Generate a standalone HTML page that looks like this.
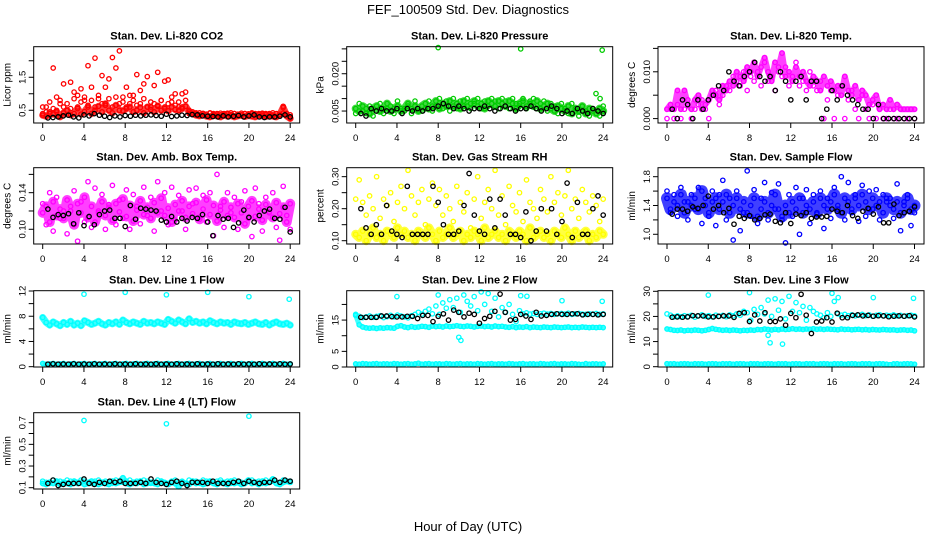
<!DOCTYPE html>
<html><head><meta charset="utf-8"><style>
html,body{margin:0;padding:0;background:#fff;}
svg{display:block;font-family:"Liberation Sans",sans-serif;}
</style></head><body>
<svg id="chart" width="936" height="540" viewBox="0 0 936 540" xmlns="http://www.w3.org/2000/svg">
<rect width="936" height="540" fill="#fff"/>
<text x="468" y="14" text-anchor="middle" font-size="13">FEF_100509  Std. Dev. Diagnostics</text>
<text x="468" y="531" text-anchor="middle" font-size="13">Hour of Day (UTC)</text>
<g id="panels"></g>
</svg>
<script>
// ---- data ----
const hourTicks = [0,4,8,12,16,20,24];

const co2Band = [0.35,0.32,0.4,0.38,0.45,0.3,0.42,0.5,0.36,0.4,0.55,0.38,0.46,0.6,0.4,0.5,0.62,0.45,0.7,0.5,0.42,0.65,0.5,0.48,0.55,0.6,0.45,0.5,0.58,0.42,0.6,0.52,0.45,0.62,0.5,0.55,0.48,0.6,0.52,0.5,0.55,0.62,0.45,0.4,0.35,0.33,0.38,0.32,0.3,0.35,0.33,0.3,0.36,0.32,0.34,0.3,0.33,0.35,0.31,0.34,0.32,0.3,0.35,0.33,0.31,0.34,0.32,0.3,0.36,0.58,0.33,0.25];
const co2Scatter = [0.4,0.6,0.45,1.78,0.9,0.7,1.3,0.5,1.35,1.05,0.95,1.15,0.8,1.85,1.2,2.08,0.85,1.55,1.2,1.45,2.1,1.78,2.3,0.9,1.2,0.7,0.95,1.58,1.1,1.3,1.52,0.6,1.25,1.65,0.8,1.38,1.42,0.75,1.0,0.6,1.0,1.05,0.4,0.38,0.42,0.36,0.4,0.38,0.41,0.37,0.4,0.36,0.39,0.41,0.37,0.4,0.38,0.36,0.4,0.37,0.39,0.36,0.4,0.38,0.37,0.4,0.36,0.39,0.37,0.62,0.4,0.3];
const co2Low = [0.6,0.45,0.75,0.55,0.5,0.8,0.6,0.7,0.55,0.85,0.6,0.75,0.9,0.65,0.8,0.6,0.95,0.7,0.65,0.85,0.6,0.9,0.7,0.75,0.6,0.95,0.8,0.65,0.7,0.85,0.6,0.75,0.7,0.65,0.8,0.6,0.7,0.9,0.65,0.75,0.6,0.8,0.5,0.45,0.4,0.42,0.4,0.38,0.42,0.4,0.38,0.41,0.4,0.39,0.42,0.4,0.38,0.41,0.4,0.39,0.42,0.4,0.38,0.41,0.4,0.39,0.42,0.4,0.38,0.41,0.4,0.36];
const co2Black = [0.27,0.28,0.3,0.33,0.35,0.3,0.27,0.36,0.33,0.4,0.35,0.32,0.28,0.33,0.3,0.34,0.32,0.35,0.33,0.35,0.36,0.34,0.32,0.38,0.31,0.33,0.35,0.34,0.37,0.36,0.33,0.32,0.31,0.3,0.33,0.3,0.32,0.34,0.3,0.33,0.36,0.3,0.28,0.3,0.3,0.32,0.36,0.3];

const presBand = [0.006,0.005,0.007,0.006,0.004,0.006,0.007,0.005,0.006,0.008,0.005,0.006,0.007,0.005,0.006,0.008,0.006,0.007,0.005,0.007,0.008,0.006,0.007,0.009,0.006,0.008,0.007,0.009,0.007,0.008,0.006,0.009,0.007,0.008,0.009,0.007,0.008,0.006,0.009,0.008,0.007,0.009,0.008,0.007,0.009,0.008,0.006,0.008,0.009,0.007,0.008,0.007,0.009,0.006,0.007,0.008,0.006,0.005,0.007,0.006,0.005,0.007,0.004,0.006,0.005,0.007,0.004,0.006,0.005,0.004,0.006,0.005];
const presScatter = [0.004,0.008,0.005,0.004,0.007,0.003,0.005,0.008,0.004,0.006,0.007,0.004,0.009,0.006,0.005,0.007,0.004,0.009,0.006,0.005,0.006,0.009,0.005,0.007,0.010,0.006,0.009,0.005,0.010,0.006,0.009,0.007,0.010,0.006,0.008,0.010,0.006,0.009,0.007,0.010,0.009,0.006,0.010,0.009,0.006,0.010,0.008,0.007,0.010,0.006,0.009,0.010,0.006,0.008,0.009,0.005,0.008,0.007,0.004,0.008,0.006,0.004,0.008,0.005,0.003,0.007,0.005,0.003,0.006,0.004,0.003,0.007];
const presOutX = [8,16,23.9,23.3,23.7];
const presOutY = [0.0305,0.0300,0.0295,0.012,0.010];
const presBlack = [0.004,0.003,0.006,0.005,0.006,0.005,0.005,0.006,0.004,0.006,0.005,0.006,0.005,0.006,0.006,0.007,0.008,0.007,0.006,0.007,0.006,0.005,0.006,0.006,0.007,0.006,0.005,0.006,0.007,0.006,0.005,0.006,0.006,0.007,0.006,0.005,0.006,0.007,0.006,0.004,0.005,0.004,0.006,0.005,0.004,0.006,0.005,0.004];

const tempBand = [0.002,0.003,0.002,0.006,0.002,0.006,0.003,0.002,0.004,0.005,0.002,0.003,0.004,0.006,0.005,0.004,0.007,0.006,0.008,0.007,0.010,0.009,0.008,0.011,0.010,0.012,0.009,0.011,0.013,0.010,0.008,0.012,0.011,0.014,0.009,0.010,0.008,0.011,0.009,0.010,0.008,0.007,0.009,0.008,0.006,0.009,0.007,0.008,0.006,0.007,0.005,0.009,0.006,0.005,0.007,0.004,0.006,0.005,0.003,0.004,0.005,0.002,0.003,0.002,0.004,0.002,0.003,0.002,0.002,0.002,0.002,0.002];
const tempScatter = [0.000,0.002,0.000,0.003,0.000,0.002,0.004,0.000,0.002,0.003,0.004,0.002,0.000,0.005,0.006,0.003,0.005,0.007,0.006,0.009,0.008,0.007,0.010,0.006,0.009,0.008,0.010,0.007,0.012,0.008,0.009,0.006,0.010,0.009,0.011,0.007,0.009,0.012,0.007,0.008,0.006,0.010,0.007,0.006,0.008,0.000,0.004,0.006,0.000,0.005,0.007,0.000,0.004,0.006,0.002,0.000,0.005,0.002,0.000,0.003,0.000,0.002,0.000,0.000,0.002,0.000,0.000,0.002,0.000,0.000,0.002,0.000];
const tempBlack = [0.002,0.000,0.004,0.003,0.000,0.004,0.002,0.004,0.005,0.007,0.006,0.010,0.008,0.007,0.009,0.010,0.012,0.009,0.008,0.009,0.006,0.010,0.008,0.004,0.008,0.009,0.004,0.008,0.008,0.000,0.002,0.006,0.004,0.007,0.005,0.004,0.003,0.002,0.002,0.000,0.003,0.000,0.000,0.000,0.000,0.000,0.000,0.000];

const boxBand = [0.118,0.125,0.108,0.13,0.115,0.122,0.112,0.132,0.12,0.105,0.128,0.118,0.135,0.113,0.125,0.108,0.12,0.13,0.115,0.124,0.11,0.128,0.119,0.133,0.114,0.126,0.109,0.121,0.131,0.116,0.124,0.112,0.129,0.118,0.134,0.115,0.123,0.108,0.127,0.12,0.131,0.113,0.125,0.117,0.129,0.111,0.122,0.132,0.116,0.126,0.109,0.121,0.13,0.115,0.124,0.113,0.128,0.118,0.106,0.125,0.131,0.114,0.122,0.11,0.127,0.119,0.113,0.129,0.117,0.124,0.108,0.128];
const boxScatter = [0.128,0.105,0.14,0.098,0.135,0.112,0.12,0.095,0.125,0.142,0.087,0.13,0.108,0.152,0.102,0.145,0.118,0.138,0.1,0.127,0.148,0.105,0.132,0.112,0.143,0.1,0.138,0.125,0.106,0.146,0.115,0.135,0.098,0.152,0.12,0.14,0.105,0.146,0.11,0.137,0.12,0.1,0.143,0.128,0.145,0.113,0.137,0.108,0.14,0.093,0.16,0.125,0.102,0.14,0.118,0.135,0.1,0.13,0.142,0.112,0.092,0.145,0.128,0.098,0.135,0.118,0.14,0.102,0.088,0.147,0.115,0.1];
const boxBlack = [0.122,0.113,0.116,0.115,0.117,0.106,0.118,0.104,0.114,0.105,0.116,0.12,0.121,0.112,0.112,0.103,0.126,0.111,0.123,0.122,0.121,0.12,0.11,0.108,0.114,0.108,0.112,0.109,0.113,0.112,0.116,0.108,0.093,0.115,0.111,0.112,0.102,0.107,0.121,0.113,0.108,0.115,0.12,0.122,0.112,0.111,0.124,0.097];

const rhBand = [0.12,0.11,0.13,0.1,0.12,0.14,0.11,0.12,0.1,0.13,0.12,0.11,0.14,0.12,0.13,0.11,0.12,0.1,0.13,0.12,0.11,0.14,0.12,0.1,0.13,0.11,0.12,0.14,0.11,0.12,0.13,0.1,0.12,0.11,0.13,0.12,0.1,0.14,0.11,0.12,0.13,0.11,0.12,0.1,0.13,0.12,0.11,0.13,0.12,0.1,0.14,0.11,0.12,0.13,0.11,0.12,0.1,0.13,0.12,0.11,0.14,0.12,0.1,0.13,0.11,0.12,0.13,0.1,0.12,0.11,0.13,0.12];
const rhScatter = [0.23,0.29,0.22,0.18,0.24,0.2,0.3,0.17,0.23,0.21,0.25,0.16,0.22,0.27,0.2,0.32,0.24,0.18,0.22,0.26,0.15,0.23,0.28,0.21,0.26,0.18,0.24,0.2,0.16,0.27,0.22,0.19,0.25,0.14,0.23,0.3,0.17,0.22,0.26,0.2,0.32,0.18,0.24,0.15,0.27,0.21,0.19,0.25,0.16,0.29,0.22,0.2,0.17,0.26,0.23,0.19,0.3,0.22,0.25,0.18,0.24,0.32,0.2,0.23,0.17,0.26,0.22,0.19,0.24,0.21,0.16,0.23];
const rhBlack = [0.2,0.14,0.12,0.15,0.12,0.21,0.13,0.12,0.11,0.27,0.12,0.12,0.12,0.12,0.27,0.22,0.15,0.12,0.12,0.13,0.21,0.31,0.18,0.13,0.12,0.23,0.14,0.23,0.18,0.12,0.12,0.11,0.19,0.1,0.13,0.2,0.13,0.2,0.12,0.16,0.28,0.11,0.22,0.12,0.12,0.2,0.24,0.18];

const flowBand = [1.5,1.35,1.45,1.4,1.55,1.3,1.45,1.4,1.5,1.35,1.6,1.4,1.3,1.45,1.5,1.35,1.45,1.55,1.3,1.4,1.5,1.35,1.45,1.3,1.4,1.5,1.25,1.35,1.45,1.3,1.4,1.55,1.35,1.25,1.4,1.3,1.45,1.35,1.5,1.3,1.4,1.35,1.45,1.3,1.5,1.4,1.35,1.45,1.55,1.4,1.3,1.5,1.45,1.35,1.5,1.4,1.55,1.45,1.35,1.5,1.4,1.45,1.3,1.5,1.4,1.35,1.45,1.3,1.4,1.5,1.35,1.4];
const flowScatter = [1.6,1.3,1.55,1.25,1.65,1.45,1.2,1.55,1.35,1.65,1.15,1.5,1.25,1.6,1.12,1.55,1.75,1.2,1.5,0.92,1.6,1.05,1.3,1.88,1.25,1.62,1.15,1.5,1.72,1.2,1.58,1.35,1.7,1.2,0.88,1.55,1.25,1.65,1.0,1.5,1.62,1.15,1.55,1.28,1.6,1.08,1.5,1.22,1.65,1.35,1.8,1.2,1.72,1.3,1.55,1.18,1.68,1.25,1.6,1.35,1.62,1.2,1.55,1.45,1.5,1.22,1.7,1.05,1.45,1.55,1.12,1.3];
const flowBlack = [1.28,1.35,1.35,1.32,1.38,1.36,1.4,1.53,1.35,1.4,1.3,1.36,1.14,1.25,1.22,1.26,1.2,1.22,1.27,1.28,1.18,1.16,1.3,1.15,1.28,1.26,1.3,1.22,1.24,1.24,1.25,1.35,1.32,1.3,1.4,1.26,1.22,1.32,1.36,1.28,1.38,1.16,1.16,1.42,1.26,1.3,1.32,1.38];

const l1Upper = [7.8,7.0,6.6,7.1,6.8,6.5,7.0,6.7,7.2,6.6,6.9,6.5,7.3,7.0,6.7,6.9,7.2,6.8,6.6,7.0,6.8,7.1,6.7,7.4,7.0,6.8,7.1,6.9,6.7,7.2,6.9,7.0,6.8,7.1,6.9,6.7,7.5,7.2,6.9,7.4,7.1,6.8,7.6,7.0,7.2,6.9,7.1,6.8,7.3,7.0,6.8,7.1,6.9,7.0,6.7,7.1,6.9,6.8,7.0,6.7,6.9,7.1,6.8,6.7,7.0,6.6,6.9,7.1,6.8,6.7,6.9,6.6];
const l1Lower = [0.5,0.4,0.45,0.5,0.4,0.45,0.5,0.4,0.45,0.5,0.4,0.45,0.5,0.4,0.45,0.5,0.4,0.45,0.5,0.4,0.45,0.5,0.4,0.45,0.5,0.4,0.45,0.5,0.4,0.45,0.5,0.4,0.45,0.5,0.4,0.45,0.5,0.4,0.45,0.5,0.4,0.45,0.5,0.4,0.45,0.5,0.4,0.45,0.5,0.4,0.45,0.5,0.4,0.45,0.5,0.4,0.45,0.5,0.4,0.45,0.5,0.4,0.45,0.5,0.4,0.45,0.5,0.4,0.45,0.5,0.4,0.45];
const l1OutX = [4,8,12,16,20,23.9];
const l1OutY = [11.5,11.8,11.4,11.8,11.1,10.7];
const l1Black = [0.4,0.45,0.4,0.42,0.4,0.45,0.4,0.42,0.4,0.45,0.4,0.42,0.4,0.45,0.4,0.42,0.4,0.45,0.4,0.42,0.4,0.45,0.4,0.42,0.4,0.45,0.4,0.42,0.4,0.45,0.4,0.42,0.4,0.45,0.4,0.42,0.4,0.45,0.4,0.42,0.4,0.45,0.4,0.42,0.4,0.45,0.4,0.42];

const l2Mid = [16.5,13.5,12.8,12.5,12.4,12.5,12.3,12.5,12.4,12.6,12.5,12.4,13.0,13.2,12.8,12.6,12.9,12.7,12.8,13.0,12.9,12.7,13.1,12.9,13.0,12.8,13.1,12.9,13.0,13.2,13.0,12.9,13.1,13.0,12.8,13.0,13.1,12.9,13.0,12.8,13.1,12.9,13.0,12.8,12.7,12.9,12.6,12.8,12.7,12.9,12.6,12.8,12.7,12.6,12.8,12.7,12.6,12.8,12.7,12.6,12.7,12.8,12.6,12.7,12.6,12.8,12.7,12.6,12.7,12.6,12.7,12.6];
const l2Low = [1.0,0.9,1.1,1.0,0.9,1.0,1.1,0.9,1.0,1.0,0.9,1.1,1.0,0.9,1.0,1.1,0.9,1.0,1.2,0.9,1.0,1.1,0.9,1.0,1.0,0.9,1.1,1.0,0.9,1.0,1.1,0.9,1.0,1.0,0.9,1.1,1.0,0.9,1.0,1.1,0.9,1.0,1.0,0.9,1.1,1.0,0.9,1.0,1.1,0.9,1.0,1.0,0.9,1.1,1.0,0.9,1.0,1.1,0.9,1.0,1.0,0.9,1.1,1.0,0.9,0.8,1.1,0.9,1.0,1.0,0.9,1.0];
const l2Upper = [16.8,16.2,15.8,16.0,16.3,15.9,16.2,16.4,15.8,16.1,16.5,16.0,16.6,16.3,16.0,15.7,16.4,16.8,17.5,16.9,17.8,18.5,17.0,19.5,16.8,20.5,18.8,21.5,19.0,22.0,17.5,23.0,21.0,19.5,22.5,18.0,24.0,20.0,23.5,17.8,22.0,16.0,19.0,17.5,20.0,16.8,14.5,18.0,17.0,17.3,16.9,17.1,16.8,17.0,17.2,16.9,17.1,16.8,17.0,17.1,16.9,17.2,16.8,17.0,17.1,16.9,16.8,17.0,16.9,17.1,16.8,17.0];
const l2OutX = [4,8,10,10.2,16,16.6,20,23.9];
const l2OutY = [22.5,23.0,9.5,8.5,22.8,22.6,21.2,21.0];
const l2Black = [15.9,15.9,15.9,15.9,16.3,16.3,16.1,16.0,16.0,16.2,16.2,15.5,16.5,16.5,14.5,16.2,17.0,15.0,18.2,17.5,16.0,17.2,16.8,14.0,15.5,16.2,17.8,23.3,17.5,15.0,15.2,16.8,16.3,15.2,17.5,16.3,16.5,16.8,17.0,16.8,16.8,17.0,17.0,16.7,16.8,16.8,16.7,16.8];

const l3Mid = [15.0,14.8,14.5,14.4,14.6,14.3,14.5,14.4,14.6,14.5,14.3,14.5,14.8,15.2,14.9,14.7,14.5,14.6,14.4,14.6,14.5,14.3,14.5,14.4,14.6,14.5,14.8,14.7,15.0,14.8,14.6,14.9,14.7,15.0,14.8,14.9,15.1,14.9,15.0,14.8,15.0,14.9,15.1,14.9,15.0,14.8,15.0,14.9,14.8,14.7,15.0,14.8,14.9,14.7,14.8,14.9,14.7,14.8,14.6,14.8,14.7,14.6,14.8,14.7,14.6,14.7,14.5,14.6,14.7,14.5,14.6,14.3];
const l3Low = [1.2,1.1,1.2,1.0,1.1,1.2,1.1,1.0,1.2,1.1,1.2,1.0,1.1,1.2,1.1,1.0,1.2,1.1,1.2,1.0,1.1,1.2,1.1,1.0,1.2,1.1,1.2,1.0,1.1,1.2,1.1,1.0,1.2,1.1,1.2,1.0,1.1,1.2,1.1,1.0,1.2,1.1,1.2,1.0,1.1,1.2,1.1,1.0,1.2,1.1,1.2,1.0,1.1,1.2,1.1,1.0,1.2,1.1,1.2,1.0,1.1,1.2,1.1,1.0,0.8,1.1,1.2,1.0,1.1,1.2,1.1,1.0];
const l3Upper = [21.0,20.5,19.8,20.2,19.9,20.3,20.0,20.4,19.7,20.2,20.6,20.0,20.3,19.8,20.5,20.1,20.4,19.9,20.6,20.2,21.0,20.5,22.0,21.5,18.5,22.8,20.8,23.5,21.0,26.5,20.0,27.0,22.5,26.0,19.0,28.0,22.0,25.5,21.5,24.0,18.5,23.5,22.0,21.0,20.5,19.5,21.5,20.0,26.0,21.0,20.5,20.8,20.3,20.6,20.2,20.5,20.8,20.3,20.6,20.1,20.4,20.7,20.2,20.5,20.3,20.6,20.2,20.4,20.1,20.3,20.5,20.2];
const l3OutX = [4,8,9.8,10,11.2,16,16.6,20,23.9];
const l3OutY = [28.5,29.5,12.5,9.5,9.0,29.2,27.5,27.5,27.2];
const l3Black = [19.7,19.8,19.7,19.8,20.3,20.2,20.2,19.8,19.8,20.0,20.2,20.2,19.6,21.2,21.5,18.0,20.6,18.2,21.5,18.0,18.0,19.0,16.5,21.2,19.5,28.8,20.5,13.2,17.8,18.2,19.5,17.8,21.3,19.5,19.5,20.4,20.6,20.2,20.4,20.1,20.3,20.2,19.9,20.1,20.2,20.1,20.3,19.8];

const l4Band = [0.14,0.13,0.15,0.14,0.16,0.13,0.15,0.14,0.13,0.16,0.14,0.15,0.13,0.14,0.16,0.14,0.13,0.15,0.14,0.13,0.16,0.14,0.15,0.19,0.14,0.13,0.15,0.14,0.16,0.13,0.14,0.15,0.14,0.13,0.16,0.14,0.13,0.15,0.14,0.11,0.15,0.14,0.13,0.16,0.14,0.15,0.13,0.14,0.16,0.14,0.13,0.15,0.14,0.13,0.16,0.14,0.15,0.13,0.14,0.17,0.14,0.15,0.13,0.16,0.14,0.15,0.18,0.14,0.13,0.15,0.16,0.15];
const l4Band2 = [0.16,0.15,0.14,0.17,0.15,0.16,0.14,0.17,0.16,0.14,0.15,0.17,0.16,0.15,0.14,0.16,0.17,0.14,0.16,0.15,0.14,0.17,0.16,0.15,0.16,0.17,0.14,0.16,0.15,0.17,0.16,0.14,0.15,0.17,0.16,0.15,0.14,0.16,0.17,0.15,0.16,0.14,0.17,0.15,0.16,0.14,0.17,0.16,0.15,0.14,0.16,0.17,0.15,0.16,0.14,0.17,0.16,0.15,0.14,0.16,0.17,0.15,0.16,0.14,0.17,0.15,0.16,0.14,0.15,0.17,0.16,0.16];
const l4OutX = [4,12,20];
const l4OutY = [0.72,0.69,0.76];
const l4Black = [0.14,0.17,0.12,0.13,0.14,0.14,0.14,0.18,0.14,0.13,0.15,0.14,0.16,0.15,0.16,0.14,0.14,0.14,0.15,0.14,0.18,0.15,0.14,0.13,0.15,0.16,0.14,0.12,0.15,0.15,0.15,0.14,0.16,0.14,0.14,0.14,0.15,0.16,0.14,0.16,0.15,0.14,0.15,0.15,0.17,0.15,0.17,0.16];

// ---- layout ----
const colX0 = [42.7, 355.7, 667];
const xSpan = 247.5;
const rowTop = [46.7, 167.7, 290.7, 412.7];
const boxH = 76.3;

// series entries: [values, colour, bandStrokeWidth (0 = points only)]
const panels = [
 {name:'co2',col:0,row:0,title:'Stan. Dev. Li-820 CO2',ylab:'Licor ppm',lo:0.114,hi:2.426,ticks:[0.5,1,1.5,2],labels:['0.5','','1.5',''],
  series:[[co2Band,'#ff0000',7],[co2Low,'#ff0000',0],[co2Scatter,'#ff0000',0]],out:null,black:co2Black},
 {name:'pressure',col:1,row:0,title:'Stan. Dev. Li-820 Pressure',ylab:'kPa',lo:0.00019,hi:0.03087,ticks:[0.005,0.01,0.015,0.02,0.025,0.03],labels:['0.005','','','0.020','',''],
  series:[[presBand,'#00cc00',8],[presScatter,'#00cc00',0]],out:[presOutX,presOutY,'#00cc00'],black:presBlack},
 {name:'li820-temp',col:2,row:0,title:'Stan. Dev. Li-820 Temp.',ylab:'degrees C',lo:-0.00094,hi:0.01536,ticks:[0,0.005,0.01,0.015],labels:['0.000','','0.010',''],
  series:[[tempBand,'#ff00ff',6],[tempScatter,'#ff00ff',0]],out:null,black:tempBlack},
 {name:'amb-box-temp',col:0,row:1,title:'Stan. Dev. Amb. Box Temp.',ylab:'degrees C',lo:0.0839,hi:0.1673,ticks:[0.1,0.12,0.14,0.16],labels:['0.10','','0.14',''],
  series:[[boxBand,'#ff00ff',10],[boxScatter,'#ff00ff',0]],out:null,black:boxBlack},
 {name:'gas-stream-rh',col:1,row:1,title:'Stan. Dev. Gas Stream RH',ylab:'percent',lo:0.0897,hi:0.328,ticks:[0.1,0.15,0.2,0.25,0.3],labels:['0.10','','0.20','','0.30'],
  series:[[rhBand,'#ffff00',9],[rhScatter,'#ffff00',0]],out:null,black:rhBlack},
 {name:'sample-flow',col:2,row:1,title:'Stan. Dev. Sample Flow',ylab:'ml/min',lo:0.865,hi:1.925,ticks:[1.0,1.2,1.4,1.6,1.8],labels:['1.0','','1.4','','1.8'],
  series:[[flowBand,'#0000ff',12],[flowScatter,'#0000ff',0]],out:null,black:flowBlack},
 {name:'line1-flow',col:0,row:2,title:'Stan. Dev. Line 1 Flow',ylab:'ml/min',lo:-0.05,hi:12.05,ticks:[0,2,4,6,8,10,12],labels:['0','','4','','8','','12'],
  series:[[l1Upper,'#00ffff',7],[l1Lower,'#00ffff',4]],out:[l1OutX,l1OutY,'#00ffff'],black:l1Black},
 {name:'line2-flow',col:1,row:2,title:'Stan. Dev. Line 2 Flow',ylab:'ml/min',lo:0,hi:24.39,ticks:[0,5,10,15,20],labels:['0','5','','15',''],
  series:[[l2Mid,'#00ffff',5],[l2Low,'#00ffff',4],[l2Upper,'#00ffff',0]],out:[l2OutX,l2OutY,'#00ffff'],black:l2Black},
 {name:'line3-flow',col:2,row:2,title:'Stan. Dev. Line 3 Flow',ylab:'ml/min',lo:-0.12,hi:30.24,ticks:[0,5,10,15,20,25,30],labels:['0','','10','','20','','30'],
  series:[[l3Mid,'#00ffff',5],[l3Low,'#00ffff',4],[l3Upper,'#00ffff',0]],out:[l3OutX,l3OutY,'#00ffff'],black:l3Black},
 {name:'line4-flow',col:0,row:3,title:'Stan. Dev. Line 4 (LT) Flow',ylab:'ml/min',lo:0.088,hi:0.792,ticks:[0.1,0.2,0.3,0.4,0.5,0.6,0.7],labels:['0.1','','0.3','','0.5','','0.7'],
  series:[[l4Band,'#00ffff',6],[l4Band2,'#00ffff',0]],out:[l4OutX,l4OutY,'#00ffff'],black:l4Black}
];

const NS = 'http://www.w3.org/2000/svg';
const root = document.getElementById('panels');
function mk(tag, attrs, parent){
  const e = document.createElementNS(NS, tag);
  for (const k in attrs) e.setAttribute(k, attrs[k]);
  parent.appendChild(e);
  return e;
}

panels.forEach(p => {
  const x0 = colX0[p.col];
  const xs = h => x0 + h / 24 * xSpan;
  const top = rowTop[p.row], bot = top + boxH;
  const ys = v => bot - (v - p.lo) / (p.hi - p.lo) * boxH;
  const L = x0 - 9, R = x0 + xSpan + 9.5;

  const g = mk('g', {}, root);
  
  

  const t = mk('text', {x:(L+R)/2, y:top-7, 'text-anchor':'middle', 'font-size':'11', 'font-weight':'bold'}, g);
  t.textContent = p.title;
  
  

  const plot = mk('g', {}, g);
  
  
  function dot(x, y, col){
    if (y < p.lo || y > p.hi) return;
    const c = mk('circle', {cx:xs(x).toFixed(1), cy:ys(y).toFixed(1), r:2.2, fill:'none', stroke:col, 'stroke-width':1.3}, plot);
    
    
  }
  // dense band backdrop drawn from the band series values
  p.series.forEach(s => {
    if (!s[2]) return;
    const arr = s[0], n = arr.length;
    const pts = arr.map((v, i) => xs(24 * i / (n - 1)).toFixed(1) + ',' + ys(v).toFixed(1)).join(' ');
    const pl = mk('polyline', {points:pts, fill:'none', stroke:s[1], 'stroke-width':s[2], 'stroke-linejoin':'round', 'stroke-linecap':'round', opacity:0.75}, plot);
    
    
  });
  p.series.forEach(s => {
    const arr = s[0], n = arr.length;
    arr.forEach((v, i) => dot(24 * i / (n - 1), v, s[1]));
  });
  if (p.out) p.out[0].forEach((x, i) => dot(x, p.out[1][i], p.out[2]));
  const bn = p.black.length;
  p.black.forEach((v, i) => dot(0.5 + 23.5 * i / (bn - 1), v, '#000'));

  const box = mk('rect', {x:L, y:top, width:R-L, height:boxH, fill:'none', stroke:'#000', 'stroke-width':1}, g);
  
  

  const xa = mk('g', {}, g);
  
  
  hourTicks.forEach(h => {
    mk('line', {x1:xs(h), x2:xs(h), y1:bot, y2:bot+5, stroke:'#000'}, xa);
    const lt = mk('text', {x:xs(h), y:bot+18, 'text-anchor':'middle', 'font-size':'9.5'}, xa);
    lt.textContent = h;
  });

  const ya = mk('g', {}, g);
  
  
  p.ticks.forEach((v, i) => {
    const y = ys(v);
    mk('line', {x1:L-5, x2:L, y1:y, y2:y, stroke:'#000'}, ya);
    if (p.labels[i]) {
      const lt = mk('text', {transform:`translate(${L-8},${y}) rotate(-90)`, 'text-anchor':'middle', 'font-size':'9.5'}, ya);
      lt.textContent = p.labels[i];
    }
  });
  const yt = mk('text', {transform:`translate(${L-23},${(top+bot)/2}) rotate(-90)`, 'text-anchor':'middle', 'font-size':'10'}, g);
  yt.textContent = p.ylab;
  
  
});
</script>
</body></html>
